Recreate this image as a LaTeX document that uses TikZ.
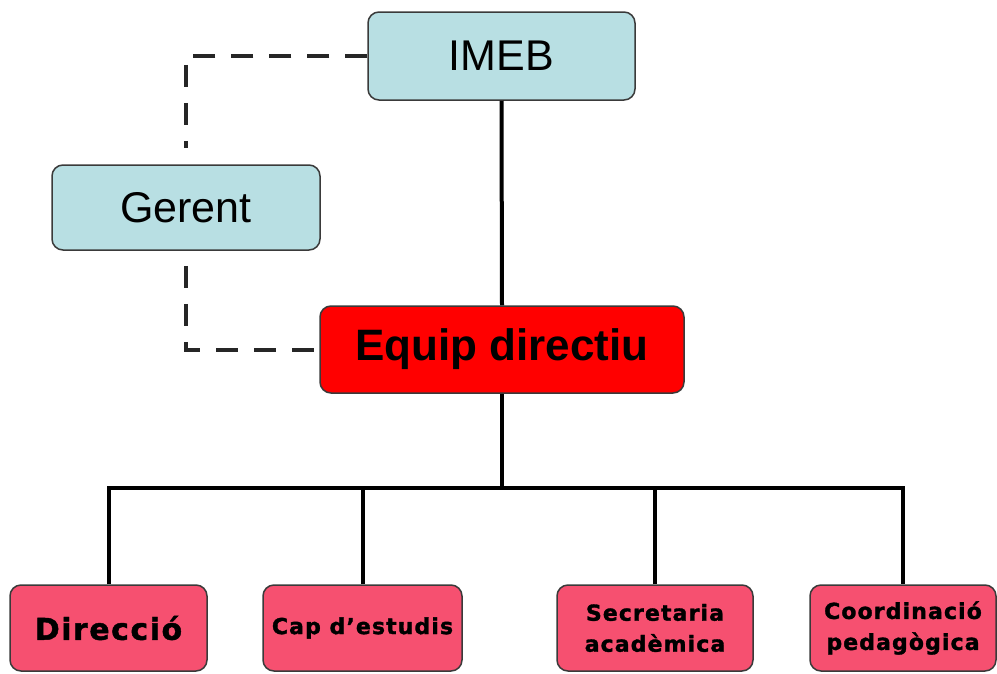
\documentclass[tikz,border=0pt]{standalone}
\usepackage{fontspec}
\setmainfont{Liberation Sans}
\newfontfamily\pixfont[LetterSpace=5,FakeBold=1.5]{DejaVu Sans Bold}
\usetikzlibrary{calc}
\definecolor{lblue}{HTML}{B8DFE3}
\definecolor{pinkred}{HTML}{F65070}
\definecolor{bord}{HTML}{3A3A3A}
\tikzset{
  box/.style={draw=bord, line width=1.5pt, rounded corners=11pt, inner sep=0pt, align=center},
  topbox/.style={box, fill=lblue, font=\fontsize{43}{48}\selectfont},
  mainbox/.style={box, fill=red, font=\fontsize{44}{50}\selectfont\bfseries},
  childbox/.style={box, fill=pinkred, minimum height=86pt},
  conn/.style={line width=4pt, black},
  dconn/.style={line width=4pt, black!85, dash pattern=on 22pt off 16pt},
}
\begin{document}
\begin{tikzpicture}[x=1pt,y=-1pt]
\useasboundingbox (0,0) rectangle (997,673);
\node[topbox, minimum width=267pt, minimum height=88pt] (imeb) at (501.5,56) {IMEB};
\node[topbox, minimum width=268pt, minimum height=85pt] (gerent) at (186,207.5) {Gerent};
\node[mainbox, minimum width=364pt, minimum height=87pt] (equip) at (502,349.5) {Equip directiu};
\node[childbox, minimum width=197pt, font=\pixfont\fontsize{30}{33}\selectfont] (dir) at (108.5,628) {Direcció};
\node[childbox, minimum width=199pt, font=\pixfont\fontsize{22}{31}\selectfont] (cap) at (362.5,628) {Cap d’estudis};
\node[childbox, minimum width=196pt, font=\pixfont\fontsize{22}{31}\selectfont] (sec) at (655,628) {Secretaria\\acadèmica};
\node[childbox, minimum width=186pt, font=\pixfont\fontsize{22}{31}\selectfont] (coord) at (903,628) {Coordinació\\pedagògica};
% dashed connectors
\coordinate (gtop) at ($(gerent.north)+(0,-16)$);
\coordinate (gbot) at ($(gerent.south)+(0,15)$);
\draw[dconn] (imeb.west) -- (imeb.west -| gtop) -- (gtop);
\draw[dconn] (gbot) -- (gbot |- equip.west) -- (equip.west);
% solid
\draw[conn] (imeb.south) -- (equip.north);
\coordinate (bar) at ($(equip.south)+(0,94)$);
\draw[conn] (equip.south) -- (bar);
\draw[conn] (dir.north) -- (dir.north |- bar) -- (coord.north |- bar) -- (coord.north);
\draw[conn] (cap.north) -- (cap.north |- bar);
\draw[conn] (sec.north) -- (sec.north |- bar);
\end{tikzpicture}
\end{document}
